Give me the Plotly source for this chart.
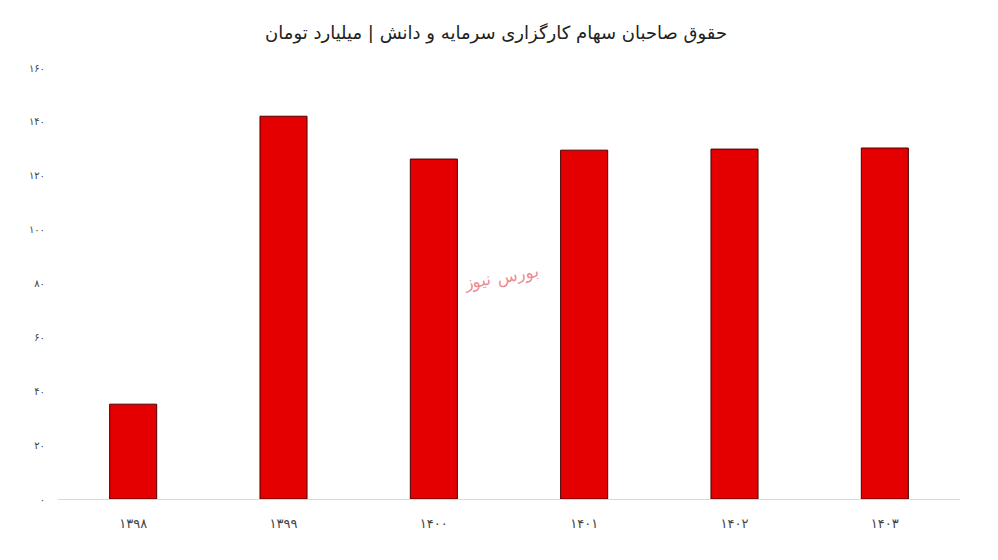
import plotly.graph_objects as go

years = ["۱۳۹۸", "۱۳۹۹", "۱۴۰۰", "۱۴۰۱", "۱۴۰۲", "۱۴۰۳"]
equity = [35.2, 142.1, 126.2, 129.5, 129.9, 130.3]
ytick_vals = [0, 20, 40, 60, 80, 100, 120, 140, 160]
ytick_text = ["۰", "۲۰", "۴۰", "۶۰", "۸۰", "۱۰۰", "۱۲۰", "۱۴۰", "۱۶۰"]
title = "حقوق صاحبان سهام کارگزاری سرمایه و دانش | میلیارد تومان"
watermark = "بورس نیوز"

fig = go.Figure()
fig.add_trace(go.Bar(
    x=years, y=equity,
    marker=dict(color="#e40000", line=dict(color="#4a0000", width=1)),
    hoverinfo="x+y",
))

fig.update_layout(
    width=990, height=552,
    paper_bgcolor="white", plot_bgcolor="white",
    margin=dict(l=50, r=38, t=60, b=61, autoexpand=False),
    bargap=0.687,
    showlegend=False,
    font=dict(family="DejaVu Sans", color="#333333"),
    title=dict(text=title, x=0.493, xanchor="center", y=1 - 25 / 552, yanchor="middle",
               font=dict(size=18, color="#222222")),
    xaxis=dict(showgrid=False, showline=True, linecolor="#d9d9d9", linewidth=1,
               ticks="", tickfont=dict(size=13, color="#444444"), ticklabelstandoff=12,
               automargin=False),
    yaxis=dict(range=[0, 160], tickvals=ytick_vals, ticktext=ytick_text,
               showgrid=False, zeroline=False, showline=False, ticks="",
               tickfont=dict(size=10, color="#444444"), ticklabelstandoff=12,
               automargin=False),
)

fig.add_annotation(text=watermark, x=0.491, y=0.515, xref="paper", yref="paper",
                   showarrow=False, textangle=-10,
                   font=dict(size=17, color="rgba(225,60,70,0.6)", family="DejaVu Serif"))

fig.write_html("out.html")
